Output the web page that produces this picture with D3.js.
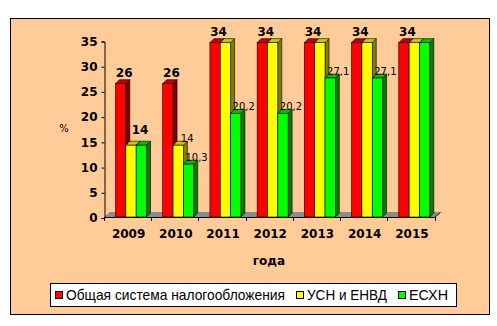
<!DOCTYPE html>
<html>
<head>
<meta charset="utf-8">
<script src="https://cdn.jsdelivr.net/npm/d3@7"></script>
<style>
  body { margin: 0; background: #fff; }
  svg { display: block; }
</style>
</head>
<body>
<svg id="chart" width="497" height="326"></svg>
<script>
// data
var years = ["2009", "2010", "2011", "2012", "2013", "2014", "2015"];
var obshaya = [26, 26, 34, 34, 34, 34, 34];
var usn = [14, 14, 34, 34, 34, 34, 34];
var eshn = [14, 10.3, 20.2, 20.2, 27.1, 27.1, 34];
var seriesNames = ["Общая система налогообложения", "УСН и ЕНВД", "ЕСХН"];
// which value labels are shown (1 = bold, 2 = small, 0 = none)
var obshayaLbl = [1, 1, 1, 1, 1, 1, 1];
var usnLbl = [1, 2, 0, 0, 0, 0, 0];
var eshnLbl = [0, 2, 2, 2, 2, 2, 0];
var yTicks = [0, 5, 10, 15, 20, 25, 30, 35];
var xTitle = "года";
var yTitle = "%";

var front = ["#ff0000", "#ffff00", "#00ff00"];
var side = ["#800000", "#808000", "#008000"];
var top_ = ["#c00000", "#c8c800", "#00c000"];

var svg = d3.select("#chart");

// chart area
svg.append("rect")
    .attr("x", 10.5).attr("y", 18.5)
    .attr("width", 479).attr("height", 296)
    .style("fill", "#ffcc99")
    .style("stroke", "#000");

var x0 = d3.scaleBand().domain(years).range([104, 434.5]);
var x1 = d3.scaleBand().domain([0, 1, 2]).range([11.5, 42.5]);
var y = d3.scaleLinear().domain([0, 35]).range([217, 37.5]);
var yAx = d3.scaleLinear().domain([0, 35]).range([218, 41.5]);
var dx = 4, dy = 4;

// floor
var fx0 = x0.range()[0], fx1 = x0.range()[1];
svg.append("path")
    .attr("d", "M" + fx0 + "," + y(0) + "L" + fx1 + "," + y(0) + "L" + (fx1 + dx + 2) + "," + (y(0) - dy - 1) +
        "L" + (fx0 + dx + 2) + "," + (y(0) - dy - 1) + "Z")
    .style("fill", "#8c8c8c");
svg.append("line")
    .attr("x1", fx0).attr("x2", fx1)
    .attr("y1", y(0) + 0.5).attr("y2", y(0) + 0.5)
    .style("stroke", "#000");
svg.append("line")
    .attr("x1", fx1).attr("x2", fx1 + dx + 2)
    .attr("y1", y(0) + 0.5).attr("y2", y(0) - dy - 0.5)
    .style("stroke", "#000");
svg.selectAll(".xtick")
    .data(years.concat(["end"]))
    .enter().append("line")
    .attr("x1", function (d, i) { return Math.round(fx0 + i * x0.step()) + 0.5; })
    .attr("x2", function (d, i) { return Math.round(fx0 + i * x0.step()) + 0.5; })
    .attr("y1", y(0)).attr("y2", y(0) + 4)
    .style("stroke", "#000");

// y axis
var yAxis = svg.append("g")
    .attr("transform", "translate(104.5,0)")
    .call(d3.axisLeft(yAx).tickValues(yTicks).tickSize(3).tickPadding(4));
yAxis.select(".domain").style("stroke", "#000");
yAxis.selectAll("text")
    .style("font-family", "DejaVu Sans")
    .style("font-weight", "bold")
    .style("font-size", "12px")
    .style("fill", "#000");

var data = [obshaya, usn, eshn];
var lbls = [obshayaLbl, usnLbl, eshnLbl];
var lblShift = [3.5, 9, 8];

years.forEach(function (yr, i) {
    var g = svg.append("g").attr("transform", "translate(" + x0(yr) + ",0)");
    [0, 1, 2].forEach(function (s) {
        var v = data[s][i];
        var bx = x1(s), bw = x1.bandwidth();
        var ty = y(v), by = y(0);
        // right side
        g.append("path")
            .attr("d", "M" + (bx + bw) + "," + by + "L" + (bx + bw + dx) + "," + (by - dy) +
                "L" + (bx + bw + dx) + "," + (ty - dy) + "L" + (bx + bw) + "," + ty + "Z")
            .style("fill", side[s]).style("stroke", "#000").style("stroke-width", 0.6);
        // top
        g.append("path")
            .attr("d", "M" + bx + "," + ty + "L" + (bx + dx) + "," + (ty - dy) +
                "L" + (bx + bw + dx) + "," + (ty - dy) + "L" + (bx + bw) + "," + ty + "Z")
            .style("fill", top_[s]).style("stroke", "#000").style("stroke-width", 0.6);
        // front
        g.append("rect")
            .attr("x", bx).attr("y", ty)
            .attr("width", bw).attr("height", by - ty)
            .style("fill", front[s]).style("stroke", "#000").style("stroke-width", 0.6);
    });
    // value labels
    [0, 1, 2].forEach(function (s) {
        var kind = lbls[s][i];
        if (!kind) return;
        var v = data[s][i];
        g.append("text")
            .attr("x", x1(s) + x1.bandwidth() / 2 + lblShift[s])
            .attr("y", kind === 1 ? y(v) - (s === 0 ? 7 : 11) : y(v) - 3)
            .attr("text-anchor", "middle")
            .style("font-family", "DejaVu Sans")
            .style("font-weight", kind === 1 ? "bold" : "normal")
            .style("font-size", kind === 1 ? "12px" : "10px")
            .text(String(v).replace(".", ","));
    });
});

// x labels
svg.selectAll(".xlab")
    .data(years)
    .enter().append("text")
    .attr("x", function (d) { return x0(d) + x0.bandwidth() / 2 + 1; })
    .attr("y", 238)
    .attr("text-anchor", "middle")
    .style("font-family", "DejaVu Sans")
    .style("font-weight", "bold")
    .style("font-size", "12px")
    .text(function (d) { return d; });

svg.append("text")
    .attr("x", 269).attr("y", 265)
    .attr("text-anchor", "middle")
    .style("font-family", "DejaVu Sans")
    .style("font-weight", "bold")
    .style("font-size", "12px")
    .text(xTitle);

svg.append("text")
    .attr("x", 64).attr("y", 132)
    .attr("text-anchor", "middle")
    .style("font-family", "DejaVu Sans")
    .style("font-size", "10px")
    .text(yTitle);

// legend
svg.append("rect")
    .attr("x", 50.5).attr("y", 283.5)
    .attr("width", 406).attr("height", 23)
    .style("fill", "#fff").style("stroke", "#000");
var legX = [55, 296, 398];
var legW = [219, 80, 39];
seriesNames.forEach(function (n, s) {
    svg.append("rect")
        .attr("x", legX[s] + 0.5).attr("y", 291.5)
        .attr("width", 7).attr("height", 7)
        .style("fill", front[s]).style("stroke", "#000");
    svg.append("text")
        .attr("x", legX[s] + 11).attr("y", 300)
        .attr("textLength", legW[s])
        .attr("lengthAdjust", "spacingAndGlyphs")
        .style("font-family", "Liberation Sans, Arial")
        .style("font-size", "15px")
        .text(n);
});
</script>
</body>
</html>
